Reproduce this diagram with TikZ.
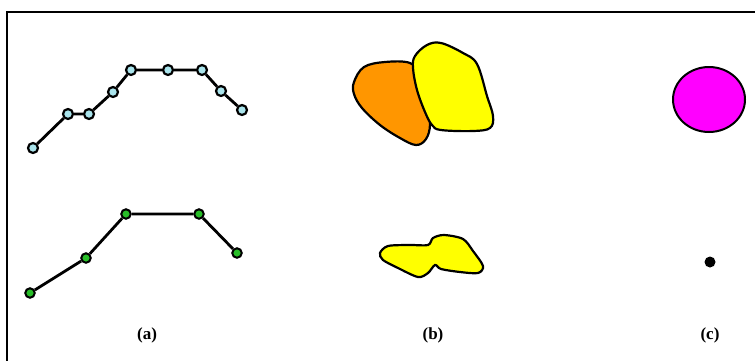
\documentclass[tikz,border=0pt]{standalone}
\usepackage{fontspec}
\setmainfont{Liberation Serif}
\definecolor{dotcyan}{RGB}{170,228,236}
\definecolor{dotgreen}{RGB}{40,190,40}
\definecolor{blorange}{RGB}{255,150,0}
\definecolor{blyellow}{RGB}{255,255,0}
\definecolor{blmagenta}{RGB}{255,0,255}
\begin{document}
\begin{tikzpicture}[x=1pt,y=-1pt,
  cyandot/.style={circle,draw=black,line width=2.2pt,fill=dotcyan,minimum size=10pt,inner sep=0pt},
  greendot/.style={circle,draw=black,line width=2pt,fill=dotgreen,minimum size=9.5pt,inner sep=0pt},
  link/.style={line width=2.8pt,black},
  blob/.style={draw=black,line width=2.2pt},
  lab/.style={font=\bfseries\fontsize{17}{20}\selectfont}]
\useasboundingbox (0,0) rectangle (755,360);
\fill[white] (0,0) rectangle (755,360);
% frame
\coordinate (ftl) at (7,12);
\coordinate (ftr) at (757,12);
\coordinate (fbl) at (7,362);
\draw[line width=2.8pt] (ftr) -- (ftl) -- (fbl);
% (a) top polyline
\node[cyandot] (a1) at (33,148) {};
\node[cyandot] (a2) at (68,114) {};
\node[cyandot] (a3) at (89,114) {};
\node[cyandot] (a4) at (113,92) {};
\node[cyandot] (a5) at (131,70) {};
\node[cyandot] (a6) at (168,70) {};
\node[cyandot] (a7) at (202,70) {};
\node[cyandot] (a8) at (221,91) {};
\node[cyandot] (a9) at (242,110) {};
\draw[link] (a1) -- (a2) -- (a3) -- (a4) -- (a5) -- (a6) -- (a7) -- (a8) -- (a9);
% (a) bottom polyline
\node[greendot] (b1) at (30,293) {};
\node[greendot] (b2) at (86,258) {};
\node[greendot] (b3) at (126,214) {};
\node[greendot] (b4) at (199,214) {};
\node[greendot] (b5) at (237,253) {};
\draw[link] (b1) -- (b2) -- (b3) -- (b4) -- (b5);
% (b) orange blob
\draw[blob,fill=blorange] plot[smooth cycle,tension=0.6] coordinates {
 (354,82) (364,67) (385,62) (410,63) (421,76) (426,100) (430,124) (426,139) (416,145) (400,138) (380,125) (362,108) (354,94)};
% (b) yellow blob
\draw[blob,fill=blyellow] plot[smooth cycle,tension=0.6] coordinates {
 (415,56) (427,45) (441,43) (463,53) (477,64) (487,96) (493,116) (490,128) (473,131) (441,130) (432,125) (425,112) (417,90) (413,68)};
% (b) bottom yellow blob
\draw[blob,fill=blyellow] plot[smooth cycle,tension=0.5] coordinates {
 (380,253) (388,246) (410,245) (428,245) (433,238) (444,235) (463,239) (473,251) (483,266) (478,273) (460,272) (441,269) (435,265) (428,273) (418,277) (398,268) (383,260)};
% (c)
\draw[line width=2pt,fill=blmagenta] (709,99.5) ellipse [x radius=36,y radius=32.5];
\fill[black] (710,262) circle (5.5);
% labels
\node[lab] (la) at (147,335) {(a)};
\node[lab] (lb) at (433,335) {(b)};
\node[lab] (lc) at (710,335) {(c)};
\end{tikzpicture}
\end{document}
